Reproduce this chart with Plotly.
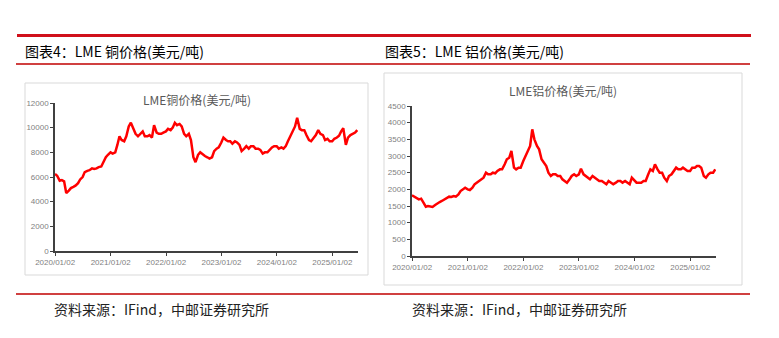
import pandas as pd
import plotly.graph_objects as go

# ---------------- data ----------------
dates = pd.date_range("2020-01-01", periods=132, freq="SMS")

copper_2020 = [6250, 6100, 5700, 5750, 5650, 4700, 4900, 5100, 5200, 5300, 5500, 5800,
               6000, 6400, 6500, 6550, 6700, 6650, 6700, 6800, 6850, 7200, 7600, 7800]
copper_2021 = [8000, 7900, 8000, 8600, 9300, 9000, 8900, 9300, 10100, 10400, 9900, 9500,
               9300, 9500, 9700, 9300, 9300, 9400, 9200, 10200, 9600, 9500, 9500, 9600]
copper_2022 = [9700, 9900, 9800, 10000, 10400, 10200, 10300, 10100, 9500, 9300, 9500, 9000,
               7600, 7200, 7800, 8000, 7800, 7700, 7600, 7500, 7600, 8100, 8300, 8400]
copper_2023 = [8800, 9200, 9000, 8900, 8900, 8700, 8900, 8800, 8600, 8100, 8300, 8500,
               8300, 8500, 8500, 8300, 8300, 8200, 7900, 8000, 8000, 8200, 8400, 8500]
copper_2024 = [8500, 8300, 8400, 8300, 8500, 8900, 9300, 9700, 10100, 10800, 9900, 9800,
               9800, 9400, 9000, 8900, 9200, 9400, 9800, 9500, 9400, 9000, 9100, 8900]
copper_2025 = [8900, 9100, 9200, 9350, 9700, 9950, 8600, 9200, 9400, 9500, 9600, 9800]
copper = copper_2020 + copper_2021 + copper_2022 + copper_2023 + copper_2024 + copper_2025

al_2020 = [1820, 1780, 1720, 1700, 1720, 1600, 1480, 1500, 1480, 1470, 1530, 1580,
           1620, 1650, 1700, 1750, 1780, 1770, 1800, 1780, 1850, 1950, 2000, 2050]
al_2021 = [2000, 1980, 2050, 2150, 2200, 2250, 2300, 2350, 2500, 2450, 2450, 2500,
           2480, 2550, 2600, 2600, 2750, 2900, 2950, 3150, 2650, 2600, 2650, 2650]
al_2022 = [2850, 3000, 3150, 3300, 3800, 3500, 3300, 3200, 2900, 2800, 2700, 2500,
           2400, 2450, 2450, 2400, 2400, 2300, 2250, 2200, 2300, 2400, 2450, 2400]
al_2023 = [2450, 2620, 2450, 2400, 2350, 2300, 2400, 2350, 2300, 2250, 2250, 2200,
           2150, 2250, 2200, 2150, 2200, 2250, 2250, 2200, 2250, 2200, 2150, 2350]
al_2024 = [2250, 2200, 2200, 2200, 2250, 2250, 2450, 2600, 2550, 2750, 2600, 2500,
           2500, 2350, 2250, 2400, 2450, 2550, 2650, 2600, 2600, 2650, 2600, 2550]
al_2025 = [2550, 2650, 2650, 2700, 2700, 2650, 2400, 2350, 2450, 2500, 2500, 2600]
aluminum = al_2020 + al_2021 + al_2022 + al_2023 + al_2024 + al_2025

x_tickvals = ["2020-01-02", "2021-01-02", "2022-01-02", "2023-01-02", "2024-01-02", "2025-01-02"]
x_ticktext = ["2020/01/02", "2021/01/02", "2022/01/02", "2023/01/02", "2024/01/02", "2025/01/02"]

header_left = "图表4：LME 铜价格(美元/吨)"
header_right = "图表5：LME 铝价格(美元/吨)"
title_left = "LME铜价格(美元/吨)"
title_right = "LME铝价格(美元/吨)"
source_text = "资料来源：IFind，中邮证券研究所"

# ---------------- layout helpers ----------------
W, H = 779, 338
def px(x):
    return x / W
def py(y):
    return 1 - y / H

RED = "#FF0000"
TICK_FONT = dict(family="Liberation Sans, Arial", size=8, color="#7F7F7F")
AXIS_COLOR = "#404040"

fig = go.Figure()
fig.add_trace(go.Scatter(x=dates, y=copper, mode="lines", line=dict(color=RED, width=2.5),
                         xaxis="x", yaxis="y", showlegend=False))
fig.add_trace(go.Scatter(x=dates, y=aluminum, mode="lines", line=dict(color=RED, width=2.5),
                         xaxis="x2", yaxis="y2", showlegend=False))

xr = ["2020-01-01", "2025-06-20"]
common_x = dict(type="date", range=xr, tickvals=x_tickvals, ticktext=x_ticktext,
                showline=True, linecolor=AXIS_COLOR, linewidth=1.5, ticks="outside",
                ticklen=3, tickcolor=AXIS_COLOR, showgrid=False, zeroline=False,
                tickfont=TICK_FONT, automargin=False)
common_y = dict(showline=True, linecolor=AXIS_COLOR, linewidth=1.5, ticks="outside",
                ticklen=3, tickcolor=AXIS_COLOR, showgrid=False, zeroline=False,
                tickfont=TICK_FONT, tickformat="d", automargin=False)

fig.update_layout(
    width=W, height=H, margin=dict(l=0, r=0, t=0, b=0, pad=0, autoexpand=False),
    paper_bgcolor="white", plot_bgcolor="white",
    xaxis=dict(domain=[px(55), px(358)], anchor="y", **common_x),
    yaxis=dict(domain=[py(251), py(103)], anchor="x", range=[0, 12000], dtick=2000, **common_y),
    xaxis2=dict(domain=[px(412), px(716)], anchor="y2", **common_x),
    yaxis2=dict(domain=[py(256), py(106)], anchor="x2", range=[0, 4500], dtick=500, **common_y),
)

shapes = []
# chart frames
shapes.append(dict(type="rect", xref="paper", yref="paper", x0=px(25), x1=px(368), y0=py(275), y1=py(83),
                   line=dict(color="#D9D9D9", width=1), layer="below"))
shapes.append(dict(type="rect", xref="paper", yref="paper", x0=px(384), x1=px(742), y0=py(285), y1=py(73),
                   line=dict(color="#D9D9D9", width=1), layer="below"))
# red rules
shapes.append(dict(type="line", xref="paper", yref="paper", x0=px(17), x1=px(751), y0=py(35.5), y1=py(35.5),
                   line=dict(color="#D0101B", width=3)))
shapes.append(dict(type="line", xref="paper", yref="paper", x0=px(16), x1=px(750), y0=py(64), y1=py(64),
                   line=dict(color="#C00000", width=1.5)))
shapes.append(dict(type="line", xref="paper", yref="paper", x0=px(16), x1=px(750), y0=py(294), y1=py(294),
                   line=dict(color="#C00000", width=1.5)))
fig.update_layout(shapes=shapes)

ann = []
HDR_FONT = dict(family="Noto Sans CJK SC", size=14, color="#000000")
ann.append(dict(text=header_left, x=px(23), y=py(51), xref="paper", yref="paper",
                xanchor="left", yanchor="middle", showarrow=False, font=HDR_FONT))
ann.append(dict(text=header_right, x=px(383), y=py(51), xref="paper", yref="paper",
                xanchor="left", yanchor="middle", showarrow=False, font=HDR_FONT))
TTL_FONT = dict(family="Noto Sans CJK SC", size=12, color="#595959")
ann.append(dict(text=title_left, x=px(197), y=py(99), xref="paper", yref="paper",
                xanchor="center", yanchor="middle", showarrow=False, font=TTL_FONT))
ann.append(dict(text=title_right, x=px(563), y=py(91), xref="paper", yref="paper",
                xanchor="center", yanchor="middle", showarrow=False, font=TTL_FONT))
SRC_FONT = dict(family="Noto Sans CJK SC", size=14, color="#222222")
ann.append(dict(text=source_text, x=px(52), y=py(309), xref="paper", yref="paper",
                xanchor="left", yanchor="middle", showarrow=False, font=SRC_FONT))
ann.append(dict(text=source_text, x=px(410), y=py(309), xref="paper", yref="paper",
                xanchor="left", yanchor="middle", showarrow=False, font=SRC_FONT))
fig.update_layout(annotations=ann)

fig.write_html("out.html")
